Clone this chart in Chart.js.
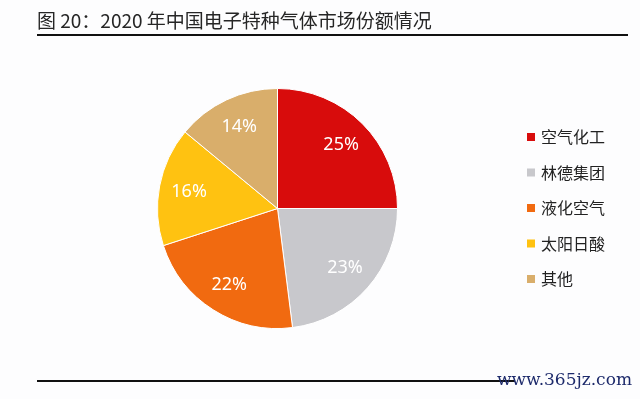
<!DOCTYPE html>
<html>
<head>
<meta charset="utf-8">
<script src="https://cdn.jsdelivr.net/npm/chart.js@4"></script>
<style>
  html, body { margin: 0; padding: 0; background: #fdfdfe; }
  #wrap { position: relative; width: 640px; height: 399px; overflow: hidden; }
</style>
</head>
<body>
<div id="wrap"><canvas id="myChart" width="640" height="399"></canvas></div>
<script>
const title = "图 20：2020 年中国电子特种气体市场份额情况";
const labels = ["空气化工", "林德集团", "液化空气", "太阳日酸", "其他"];
const shares = [25, 23, 22, 16, 14];
const sliceColors = ["#d80c0c", "#c8c8cc", "#f16a10", "#ffc211", "#d9ae6b"];
const watermark = "www.365jz.com";

const cjk = '"Noto Sans CJK SC", "Noto Sans", sans-serif';

// title, rules, legend and labels
const decor = {
    id: "decor",
    afterDraw(chart) {
        const c = chart.ctx;
        c.save();
        c.fillStyle = "#262626";
        c.font = "19px " + cjk;
        c.textBaseline = "alphabetic";
        c.fillText(title, 37, 28);

        c.fillStyle = "#111";
        c.fillRect(37, 34, 591, 2);
        c.fillRect(37, 380, 591, 2);

        // legend
        c.font = "16px " + cjk;
        c.textBaseline = "middle";
        labels.forEach((lab, i) => {
            const y = 137 + i * 35.5;
            c.fillStyle = sliceColors[i];
            c.fillRect(527, y - 4, 8, 8);
            c.fillStyle = "#222";
            c.fillText(lab, 541, y);
        });

        // percentage labels inside slices
        const meta = chart.getDatasetMeta(0);
        c.font = "18px 'Noto Sans', sans-serif";
        c.fillStyle = "#ffffff";
        c.textAlign = "center";
        meta.data.forEach((arc, i) => {
            const p = arc.getProps(["x", "y", "startAngle", "endAngle", "outerRadius"], true);
            const mid = (p.startAngle + p.endAngle) / 2;
            const r = p.outerRadius * 0.75;
            c.fillText(shares[i] + "%", p.x + Math.cos(mid) * r, p.y + Math.sin(mid) * r);
        });

        // watermark
        c.textAlign = "right";
        c.font = "17px 'DejaVu Serif', serif";
        c.fillStyle = "#fdfdfe";
        c.fillRect(515, 370, 125, 24);
        c.fillStyle = "#1d2a6b";
        c.fillText(watermark, 632, 381);
        c.restore();
    }
};

const conf = {
    type: "pie",
    data: {
        labels: labels,
        datasets: [{
            data: shares,
            backgroundColor: sliceColors,
            borderColor: "#ffffff",
            borderWidth: 1
        }]
    },
    options: {
        responsive: false,
        animation: false,
        layout: { padding: { left: 157, right: 242, top: 88, bottom: 70 } },
        plugins: {
            legend: { display: false },
            tooltip: { enabled: false }
        }
    },
    plugins: [decor]
};

const myChart = new Chart(document.getElementById("myChart"), conf);
</script>
</body>
</html>
